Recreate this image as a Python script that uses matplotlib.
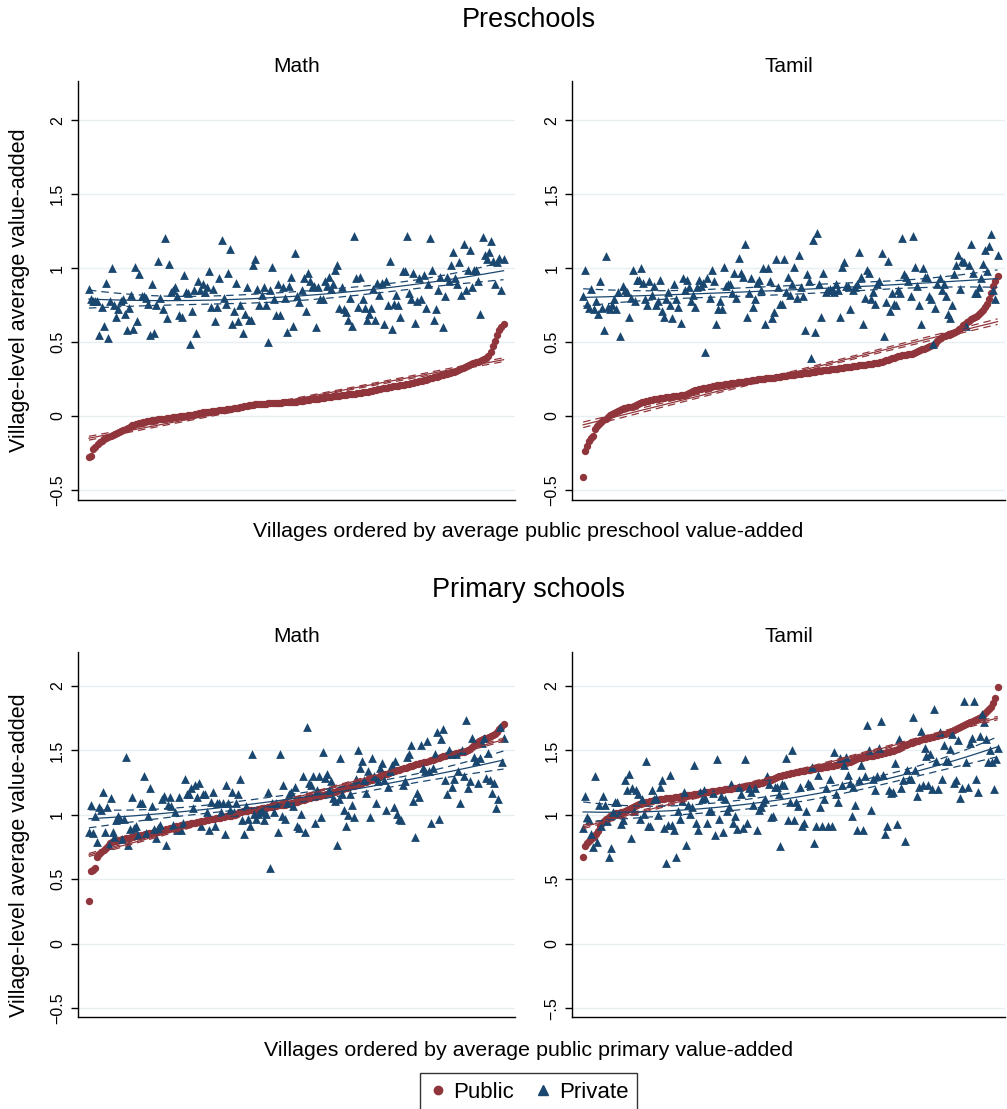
import numpy as np
import matplotlib
matplotlib.use("Agg")
import matplotlib.pyplot as plt
from matplotlib.lines import Line2D

plt.rcParams['font.family'] = ['Liberation Sans', 'DejaVu Sans']

NAVY = '#1a476f'
MAROON = '#90353b'
GRID = '#e8eff1'

# villages are ordered by public value-added, so public values are sorted
# ---- Preschools, Math ----
pre_math_public = [
    -0.28, -0.27, -0.22, -0.21, -0.19, -0.175, -0.167, -0.157, -0.149, -0.143,
    -0.135, -0.128, -0.121, -0.115, -0.109, -0.103, -0.096, -0.088, -0.081, -0.074,
    -0.064, -0.058, -0.054, -0.050, -0.046, -0.042, -0.039, -0.036, -0.033, -0.030,
    -0.027, -0.025, -0.023, -0.021, -0.019, -0.017, -0.015, -0.013, -0.011, -0.009,
    -0.007, -0.005, -0.003, -0.001, 0.001, 0.003, 0.006, 0.008, 0.010, 0.013,
    0.016, 0.019, 0.022, 0.024, 0.026, 0.028, 0.030, 0.032, 0.034, 0.036,
    0.038, 0.040, 0.042, 0.044, 0.046, 0.048, 0.050, 0.052, 0.054, 0.057,
    0.060, 0.063, 0.066, 0.069, 0.072, 0.075, 0.077, 0.079, 0.080, 0.081,
    0.082, 0.083, 0.084, 0.085, 0.086, 0.087, 0.088, 0.089, 0.090, 0.091,
    0.092, 0.093, 0.094, 0.095, 0.096, 0.097, 0.098, 0.100, 0.102, 0.104,
    0.106, 0.108, 0.110, 0.112, 0.114, 0.116, 0.118, 0.120, 0.122, 0.124,
    0.126, 0.128, 0.130, 0.132, 0.134, 0.136, 0.138, 0.140, 0.142, 0.144,
    0.146, 0.148, 0.150, 0.152, 0.154, 0.156, 0.158, 0.160, 0.162, 0.165,
    0.168, 0.171, 0.174, 0.177, 0.180, 0.183, 0.186, 0.189, 0.192, 0.195,
    0.198, 0.201, 0.204, 0.206, 0.208, 0.210, 0.213, 0.216, 0.219, 0.222,
    0.226, 0.229, 0.232, 0.236, 0.240, 0.243, 0.246, 0.250, 0.254, 0.258,
    0.262, 0.266, 0.270, 0.274, 0.278, 0.282, 0.286, 0.290, 0.295, 0.300,
    0.306, 0.312, 0.318, 0.325, 0.332, 0.340, 0.346, 0.352, 0.358, 0.362,
    0.366, 0.372, 0.378, 0.384, 0.392, 0.405, 0.43, 0.47, 0.51, 0.55,
    0.58, 0.60, 0.62]
pre_math_private = [
    0.86, 0.79, 0.78, 0.78, 0.78, 0.55, 0.74, 0.61, 0.90, 0.53,
    0.78, 1.00, 0.75, 0.67, 0.72, 0.78, 0.79, 0.69, 0.58, 0.73,
    0.82, 0.59, 1.01, 0.64, 0.96, 0.81, 0.81, 0.80, 0.76, 0.55,
    0.89, 0.56, 0.75, 1.05, 0.80, 0.72, 1.20, 0.66, 1.03, 0.84,
    0.85, 0.87, 0.81, 0.68, 0.67, 0.95, 0.84, 0.83, 0.49, 0.71,
    0.85, 0.56, 0.91, 0.85, 0.89, 0.84, 0.87, 0.98, 0.74, 0.86,
    0.64, 0.74, 0.93, 1.19, 0.80, 0.76, 0.97, 1.13, 0.62, 0.71,
    0.90, 0.64, 0.75, 0.56, 0.69, 0.87, 0.65, 0.65, 1.02, 1.06,
    0.86, 0.75, 0.82, 0.87, 0.75, 0.50, 0.85, 1.01, 0.79, 0.68,
    0.89, 0.68, 0.87, 0.80, 0.57, 0.88, 0.94, 0.61, 1.10, 0.81, 0.77,
    0.85, 0.93, 0.71, 0.97, 0.91, 0.87, 0.88, 0.60, 0.87, 0.79,
    0.79, 0.91, 0.88, 0.94, 0.86, 0.89, 0.99, 1.02, 0.73, 0.87,
    0.72, 0.70, 0.65, 0.80, 0.61, 1.22, 0.93, 0.74, 0.94, 0.79,
    0.73, 0.65, 0.69, 0.73, 0.86, 0.65, 0.90, 0.82, 0.90, 0.62,
    0.91, 0.75, 1.05, 0.59, 0.76, 0.82, 0.75, 0.67, 0.98, 0.98,
    1.22, 0.83, 0.79, 0.97, 0.63, 0.78, 0.93, 0.79, 0.95, 0.73,
    0.89, 1.20, 0.99, 0.65, 0.72, 0.85, 0.94, 0.60, 0.81, 0.94,
    0.91, 1.02, 1.11, 0.93, 0.89, 1.04, 0.82, 1.16, 0.85, 0.99,
    1.12, 0.87, 0.99, 0.99, 0.91, 0.69, 1.21, 1.09, 1.06, 1.11,
    1.18, 1.05, 0.89, 1.04, 1.07, 0.85, 1.06]

# ---- Preschools, Tamil ----
pre_tamil_public = [
    -0.41, -0.236, -0.20, -0.17, -0.148, -0.138, -0.09, -0.07, -0.055, -0.04,
    -0.03, -0.018, -0.006, 0.006, 0.014, 0.02, 0.03, 0.037, 0.044, 0.048,
    0.052, 0.055, 0.058, 0.061, 0.064, 0.068, 0.074, 0.080, 0.086, 0.092,
    0.096, 0.100, 0.104, 0.107, 0.110, 0.112, 0.115, 0.118, 0.120, 0.122,
    0.124, 0.126, 0.128, 0.130, 0.132, 0.134, 0.136, 0.138, 0.140, 0.142,
    0.144, 0.148, 0.155, 0.162, 0.168, 0.174, 0.178, 0.182, 0.185, 0.188,
    0.190, 0.192, 0.195, 0.198, 0.201, 0.204, 0.207, 0.209, 0.211, 0.213,
    0.215, 0.217, 0.219, 0.221, 0.223, 0.225, 0.227, 0.229, 0.231, 0.233,
    0.235, 0.237, 0.239, 0.241, 0.243, 0.245, 0.247, 0.249, 0.251, 0.253,
    0.254, 0.256, 0.258, 0.259, 0.260, 0.262, 0.264, 0.266, 0.268, 0.270,
    0.272, 0.274, 0.276, 0.278, 0.280, 0.282, 0.284, 0.286, 0.288, 0.290,
    0.292, 0.294, 0.296, 0.298, 0.300, 0.302, 0.304, 0.306, 0.308, 0.310,
    0.312, 0.313, 0.315, 0.317, 0.318, 0.320, 0.322, 0.324, 0.326, 0.328,
    0.330, 0.332, 0.334, 0.336, 0.338, 0.340, 0.342, 0.344, 0.346, 0.348,
    0.350, 0.352, 0.354, 0.356, 0.358, 0.361, 0.364, 0.368, 0.372, 0.376,
    0.380, 0.385, 0.390, 0.395, 0.400, 0.405, 0.408, 0.410, 0.412, 0.414,
    0.416, 0.418, 0.420, 0.424, 0.430, 0.437, 0.444, 0.450, 0.456, 0.462,
    0.468, 0.474, 0.480, 0.490, 0.505, 0.520, 0.530, 0.538, 0.542, 0.545,
    0.548, 0.552, 0.558, 0.566, 0.575, 0.585, 0.598, 0.612, 0.625, 0.636,
    0.645, 0.655, 0.662, 0.670, 0.678, 0.690, 0.700, 0.715, 0.735, 0.760,
    0.790, 0.830, 0.880, 0.915, 0.945]
pre_tamil_private = [
    0.81, 0.99, 0.76, 0.73, 0.86, 0.72, 0.78, 0.69, 0.91, 0.73,
    0.58, 1.08, 0.74, 0.72, 0.75, 0.79, 0.72, 0.84, 0.54, 0.88,
    0.85, 0.84, 0.67, 0.80, 0.99, 0.78, 0.92, 0.92, 1.00, 0.90,
    0.79, 0.75, 0.91, 0.82, 0.88, 0.75, 0.78, 0.92, 0.71, 0.67,
    0.79, 0.84, 0.75, 0.66, 0.89, 0.79, 0.74, 0.63, 0.93, 0.85,
    0.92, 0.87, 0.78, 0.82, 0.74, 0.87, 0.92, 0.88, 0.90, 0.43,
    0.93, 0.80, 0.99, 0.91, 0.62, 0.72, 0.78, 0.72, 1.01, 0.88,
    0.89, 0.89, 0.83, 0.97, 0.80, 1.07, 0.97, 0.94, 1.16, 0.67,
    0.83, 0.93, 0.74, 0.79, 0.90, 0.92, 0.85, 1.00, 0.62, 1.00,
    0.91, 0.66, 0.70, 1.06, 0.87, 0.76, 0.76, 1.06, 0.84, 0.94,
    0.82, 0.89, 1.01, 0.80, 1.09, 0.87, 0.81, 0.58, 0.96, 0.91,
    0.39, 1.19, 0.57, 1.24, 0.89, 0.67, 0.97, 0.84, 0.85, 0.86,
    0.85, 0.84, 0.89, 0.85, 0.67, 1.01, 1.04, 0.88, 0.88, 0.72,
    0.85, 0.87, 0.89, 1.11, 0.94, 0.62, 0.80, 0.99, 0.97, 0.79,
    0.84, 0.76, 0.89, 0.91, 1.10, 0.54, 0.77, 1.05, 0.71, 0.83,
    0.76, 0.75, 0.85, 0.83, 1.20, 0.96, 0.94, 0.91, 0.81, 1.22,
    1.01, 0.88, 0.75, 0.62, 1.00, 0.94, 0.94, 0.81, 0.79, 0.49,
    0.73, 0.89, 0.93, 0.85, 0.89, 0.81, 0.69, 0.66, 0.75, 0.96,
    1.02, 1.09, 0.86, 1.05, 1.04, 0.61, 1.02, 1.16, 0.97, 0.83,
    0.83, 0.87, 0.93, 1.03, 1.12, 0.98, 1.15, 1.23, 0.85, 0.79,
    1.09]

# ---- Primary schools, Math ----
prim_math_public = [
    0.33, 0.565, 0.573, 0.585, 0.676, 0.700, 0.715, 0.728, 0.745, 0.757,
    0.780, 0.790, 0.796, 0.800, 0.804, 0.808, 0.812, 0.816, 0.820, 0.824,
    0.827, 0.830, 0.833, 0.836, 0.839, 0.842, 0.845, 0.848, 0.852, 0.856,
    0.860, 0.864, 0.868, 0.872, 0.876, 0.880, 0.884, 0.888, 0.892, 0.897,
    0.902, 0.906, 0.910, 0.914, 0.918, 0.922, 0.925, 0.928, 0.931, 0.934,
    0.937, 0.940, 0.944, 0.948, 0.952, 0.956, 0.959, 0.962, 0.965, 0.968,
    0.971, 0.973, 0.976, 0.979, 0.982, 0.985, 0.988, 0.991, 0.994, 0.997,
    1.000, 1.010, 1.020, 1.025, 1.028, 1.031, 1.033, 1.035, 1.037, 1.039,
    1.041, 1.044, 1.047, 1.050, 1.053, 1.056, 1.059, 1.062, 1.065, 1.068,
    1.071, 1.073, 1.075, 1.077, 1.079, 1.082, 1.086, 1.090, 1.094, 1.098,
    1.102, 1.106, 1.112, 1.118, 1.124, 1.130, 1.133, 1.136, 1.139, 1.142,
    1.145, 1.148, 1.152, 1.156, 1.161, 1.166, 1.171, 1.176, 1.181, 1.186,
    1.192, 1.197, 1.202, 1.207, 1.212, 1.217, 1.222, 1.227, 1.232, 1.237,
    1.242, 1.247, 1.252, 1.257, 1.262, 1.268, 1.274, 1.280, 1.286, 1.293,
    1.300, 1.307, 1.314, 1.320, 1.326, 1.332, 1.337, 1.342, 1.347, 1.352,
    1.357, 1.362, 1.367, 1.372, 1.377, 1.382, 1.387, 1.391, 1.395, 1.399,
    1.403, 1.408, 1.413, 1.418, 1.423, 1.428, 1.433, 1.438, 1.443, 1.448,
    1.453, 1.458, 1.463, 1.468, 1.472, 1.476, 1.479, 1.482, 1.485, 1.488,
    1.491, 1.494, 1.500, 1.515, 1.530, 1.545, 1.558, 1.570, 1.580, 1.588,
    1.595, 1.600, 1.605, 1.610, 1.616, 1.625, 1.645, 1.665, 1.685, 1.705]
prim_math_private = [
    0.87, 1.08, 0.86, 0.99, 0.79, 1.06, 1.04, 1.18, 0.87, 1.06,
    0.77, 1.13, 0.87, 0.83, 0.96, 0.99, 0.97, 0.81, 0.97, 1.45,
    0.77, 0.89, 1.14, 0.90, 0.91, 0.84, 1.09, 1.09, 1.30, 0.86,
    0.99, 1.21, 1.07, 0.89, 0.82, 0.90, 0.92, 1.12, 1.15, 0.77,
    1.08, 1.14, 1.07, 0.92, 1.02, 0.88, 1.14, 0.88, 0.94, 1.28,
    1.16, 1.16, 1.21, 1.05, 1.23, 1.14, 1.25, 0.91, 1.16, 1.16,
    1.02, 0.88, 1.10, 1.18, 0.91, 1.09, 1.09, 1.02, 1.09, 0.85,
    1.23, 1.09, 1.04, 1.18, 1.02, 1.09, 1.16, 1.28, 0.96, 0.85,
    1.07, 0.97, 0.91, 1.47, 1.01, 0.97, 1.01, 1.02, 1.04, 0.96,
    1.01, 1.18, 0.59, 1.09, 1.02, 1.09, 0.87, 1.47, 0.99, 1.23,
    0.97, 1.09, 1.16, 1.18, 1.07, 1.22, 0.91,
    0.90, 1.01, 1.30, 0.87, 1.68, 1.25, 1.23, 1.30, 0.94, 1.19,
    1.30, 0.98, 1.49, 1.29, 1.32, 1.19, 1.26, 1.13, 1.11, 0.77,
    1.12, 1.44, 1.16, 1.04, 0.91, 1.00, 1.16, 1.08, 0.98, 1.28,
    1.50, 1.36, 1.42, 1.27, 1.17, 1.34, 0.98, 1.44, 1.30, 1.09,
    1.26, 1.36, 1.40, 1.27, 1.04, 1.22, 1.34, 1.39, 1.06, 1.42,
    1.01, 0.97, 0.96, 1.23, 1.26, 1.45, 1.47, 1.54, 1.11, 0.83,
    1.17, 1.14, 1.54, 1.36, 1.34, 1.57, 1.34, 0.94, 1.36, 1.47,
    1.64, 0.97, 1.59, 1.67, 1.27, 1.16, 1.50, 1.47, 1.22, 1.28,
    1.47, 1.34, 1.09, 1.50, 1.30, 1.74, 1.21, 1.26, 1.60, 1.45,
    1.42, 1.25, 1.44, 1.56, 1.60, 1.29, 1.48, 1.27, 1.17, 1.25,
    1.05, 1.12, 1.68, 1.41, 1.60]

# ---- Primary schools, Tamil ----
prim_tamil_public = [
    0.677, 0.760, 0.780, 0.800, 0.812, 0.832, 0.855, 0.878, 0.910, 0.935,
    0.950, 0.968, 0.978, 0.988, 0.998, 1.006, 1.012, 1.018, 1.022, 1.026,
    1.030, 1.038, 1.046, 1.054, 1.062, 1.070, 1.078, 1.083, 1.088, 1.093,
    1.098, 1.103, 1.106, 1.109, 1.112, 1.115, 1.118, 1.121, 1.124, 1.126,
    1.128, 1.130, 1.132, 1.134, 1.136, 1.138, 1.141, 1.144, 1.147, 1.150,
    1.152, 1.155, 1.158, 1.161, 1.163, 1.165, 1.168, 1.170, 1.172, 1.175,
    1.177, 1.180, 1.182, 1.184, 1.187, 1.190, 1.192, 1.195, 1.197, 1.200,
    1.202, 1.204, 1.207, 1.210, 1.212, 1.215, 1.218, 1.220, 1.223, 1.226,
    1.229, 1.232, 1.235, 1.238, 1.242, 1.246, 1.250, 1.255, 1.260, 1.266,
    1.272, 1.278, 1.285, 1.292, 1.298, 1.303, 1.307, 1.311, 1.315, 1.319,
    1.322, 1.326, 1.330, 1.334, 1.337, 1.340, 1.343, 1.346, 1.349, 1.352,
    1.354, 1.357, 1.360, 1.362, 1.365, 1.368, 1.371, 1.374, 1.377, 1.380,
    1.383, 1.386, 1.390, 1.393, 1.396, 1.399, 1.403, 1.408, 1.414, 1.420,
    1.426, 1.432, 1.438, 1.442, 1.445, 1.448, 1.451, 1.454, 1.457, 1.460,
    1.463, 1.466, 1.470, 1.474, 1.478, 1.482, 1.486, 1.490, 1.494, 1.498,
    1.502, 1.510, 1.520, 1.530, 1.540, 1.546, 1.551, 1.556, 1.561, 1.566,
    1.571, 1.576, 1.581, 1.585, 1.589, 1.593, 1.597, 1.601, 1.605, 1.609,
    1.612, 1.616, 1.620, 1.625, 1.630, 1.636, 1.642, 1.650, 1.658, 1.666,
    1.674, 1.680, 1.688, 1.696, 1.704, 1.712, 1.720, 1.728, 1.736, 1.744,
    1.752, 1.762, 1.775, 1.790, 1.805, 1.820, 1.840, 1.870, 1.905, 1.995]
prim_tamil_private = [
    0.90, 1.15, 0.98, 0.96, 0.85, 0.75, 1.30, 0.79, 1.08, 0.91,
    1.15, 1.08, 0.95, 0.67, 0.74, 1.02, 1.10, 1.10, 1.01, 0.93,
    0.96, 1.27, 1.19, 1.32, 0.82, 1.21, 1.03, 1.19, 1.16, 0.97,
    1.12, 1.01, 1.42, 0.91, 0.91, 1.19, 1.12, 1.13, 1.00, 1.22,
    1.27, 0.90, 0.63, 0.92, 1.31, 0.92, 0.88, 0.67, 1.03, 0.97,
    1.11, 1.18, 0.77, 1.08, 1.01, 1.06, 1.39, 0.94, 0.88, 1.18,
    1.12, 1.19, 1.13, 0.94, 1.03, 1.03, 1.17, 0.84, 1.43, 0.97,
    1.15, 0.87, 1.12, 1.03, 1.06, 1.24, 0.94, 0.99, 0.89, 1.22,
    1.16, 0.90, 1.43, 0.94, 1.21, 1.18, 1.08, 1.21, 0.88, 1.04,
    1.06, 1.10, 1.12, 1.30, 1.24, 0.98, 0.99, 1.22, 1.22, 1.16,
    0.76, 1.24, 1.23, 1.44, 0.96,
    1.10, 1.50, 0.96, 1.10, 1.07, 1.22, 0.91, 0.94, 1.03, 1.25,
    1.23, 1.37, 0.78, 0.91, 1.31, 1.06, 0.91, 1.12, 1.21, 0.91,
    1.28, 0.91, 1.49, 1.16, 1.10, 1.44, 1.23, 1.39, 1.45, 1.31,
    1.25, 0.99, 1.22, 1.08, 0.88, 1.27, 1.39, 0.88, 1.30, 1.70,
    1.50, 1.04, 1.28, 1.19, 1.30, 1.52, 1.73, 1.31, 0.85, 0.91,
    1.19, 1.17, 1.18, 1.40, 0.93, 1.59, 1.21, 1.27, 0.80, 1.35,
    1.28, 1.28, 1.76, 1.35, 1.15, 1.22, 1.65, 1.23, 1.52, 1.46,
    1.23, 1.47, 1.20, 1.82, 1.42, 1.20, 1.64, 1.28, 1.54, 1.42,
    1.42, 1.51, 1.63, 1.25, 1.27, 1.58, 1.13, 1.21, 1.88, 1.41,
    1.22, 1.56, 1.60, 1.88, 1.28, 1.18, 1.61, 1.78, 1.72, 1.59,
    1.41, 1.50, 1.41, 1.20, 1.43, 1.52]

ticks = [-0.5, 0, 0.5, 1, 1.5, 2]
labels_long = ['\u22120.5', '0', '0.5', '1', '1.5', '2']
labels_short = ['\u2212.5', '0', '.5', '1', '1.5', '2']


def fit_ci(x, y, deg):
    X = np.vander(x, deg + 1)
    coef = np.linalg.lstsq(X, y, rcond=None)[0]
    resid = y - X @ coef
    s2 = resid @ resid / (len(y) - deg - 1)
    cov = s2 * np.linalg.inv(X.T @ X)
    xs = np.linspace(x.min(), x.max(), 200)
    Xs = np.vander(xs, deg + 1)
    yh = Xs @ coef
    se = np.sqrt(np.einsum('ij,jk,ik->i', Xs, cov, Xs))
    return xs, yh, yh - 1.96 * se, yh + 1.96 * se


def panel(ax, public, private, ticklabels, xmax):
    public = np.array(public)
    private = np.array(private)
    xp = np.linspace(0, 1, len(public))
    xv = np.linspace(0, 1, len(private))
    ax.scatter(xp, public, marker='o', s=28, color=MAROON, linewidths=0, zorder=3)
    ax.scatter(xv, private, marker='^', s=40, color=NAVY, linewidths=0, zorder=3)
    # linear fit for public, quadratic for private, with 95% CI
    for x, y, deg, c in [(xp, public, 1, MAROON), (xv, private, 2, NAVY)]:
        xs, yh, lo, hi = fit_ci(x, y, deg)
        ax.plot(xs, yh, color=c, lw=0.9, zorder=4)
        ax.plot(xs, lo, color=c, lw=0.9, ls=(0, (6, 4)), zorder=4)
        ax.plot(xs, hi, color=c, lw=0.9, ls=(0, (6, 4)), zorder=4)
    ax.set_xlim(-0.027, xmax)
    ax.set_ylim(-0.568, 2.264)
    ax.set_yticks(ticks)
    ax.set_yticklabels(ticklabels, rotation=90, va='center', fontsize=11.5)
    ax.set_xticks([])
    ax.grid(axis='y', color=GRID, lw=1)
    ax.set_axisbelow(True)
    for s in ['top', 'right']:
        ax.spines[s].set_visible(False)
    ax.spines['left'].set_linewidth(1)
    ax.spines['bottom'].set_linewidth(1)
    ax.tick_params(axis='y', length=5, width=1, pad=4)


fig = plt.figure(figsize=(10.07, 11.09), dpi=100)

ax1 = fig.add_axes([0.0772, 0.5491, 0.4340, 0.3778])
ax2 = fig.add_axes([0.5680, 0.5491, 0.4300, 0.3778])
ax3 = fig.add_axes([0.0772, 0.0830, 0.4340, 0.3291])
ax4 = fig.add_axes([0.5680, 0.0830, 0.4300, 0.3291])

panel(ax1, pre_math_public, pre_math_private, labels_long, 1.027)
panel(ax2, pre_tamil_public, pre_tamil_private, labels_long, 1.018)
panel(ax3, prim_math_public, prim_math_private, labels_long, 1.027)
panel(ax4, prim_tamil_public, prim_tamil_private, labels_short, 1.018)

fig.text(0.525, 0.982, 'Preschools', ha='center', va='center', fontsize=19.5)
fig.text(0.525, 0.468, 'Primary schools', ha='center', va='center', fontsize=19.5)
for ax, y in [(ax1, 0.9396), (ax2, 0.9396), (ax3, 0.4265), (ax4, 0.4265)]:
    pos = ax.get_position()
    fig.text(pos.x0 + pos.width / 2, y, 'Math' if ax in (ax1, ax3) else 'Tamil',
             ha='center', va='center', fontsize=15)

fig.text(0.019, 0.7385, 'Village-level average value-added', rotation=90,
         ha='center', va='center', fontsize=15.5)
fig.text(0.019, 0.229, 'Village-level average value-added', rotation=90,
         ha='center', va='center', fontsize=15.5)
fig.text(0.525, 0.5203, 'Villages ordered by average public preschool value-added',
         ha='center', va='center', fontsize=15.4)
fig.text(0.525, 0.0523, 'Villages ordered by average public primary value-added',
         ha='center', va='center', fontsize=15.4)

handles = [Line2D([], [], marker='o', ls='none', color=MAROON, markersize=6),
           Line2D([], [], marker='^', ls='none', color=NAVY, markersize=7)]
leg = fig.legend(handles, ['Public', 'Private'], loc='upper center',
                 bbox_to_anchor=(0.525, 0.0325), ncol=2, fontsize=16,
                 frameon=True, fancybox=False, edgecolor='black',
                 handletextpad=0.3, columnspacing=0.9, borderpad=0.4,
                 borderaxespad=0, handlelength=0.8)
leg.get_frame().set_linewidth(1)

fig.savefig('out.png', dpi=100)
